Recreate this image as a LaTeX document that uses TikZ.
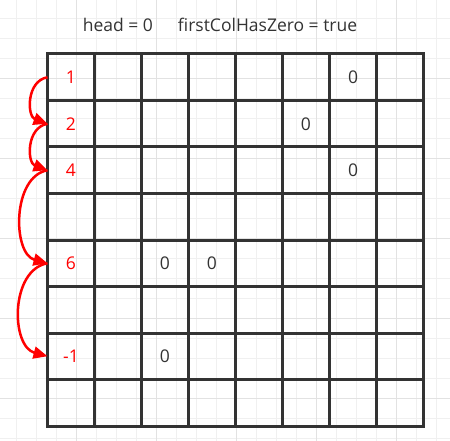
\documentclass[tikz,border=0pt]{standalone}
\usepackage{fontspec}
\setmainfont{Open Sans}
\usetikzlibrary{calc,arrows.meta}
\definecolor{gridline}{HTML}{333333}
\definecolor{bgminor}{HTML}{F0F0F0}
\definecolor{bgmajor}{HTML}{E2E2E2}
\definecolor{txt}{HTML}{333333}
\tikzset{
  cell/.style={draw=gridline,line width=3pt,minimum width=47pt,minimum height=46.5pt,inner sep=0pt,outer sep=0pt},
  val/.style={text=txt,font=\fontsize{17.5}{20}\selectfont},
  idx/.style={text=red,font=\fontsize{17.5}{20}\selectfont},
  nxt/.style={draw=red,line width=2.5pt,-{Triangle[length=14pt,width=12pt]}}
}

\begin{document}
\begin{tikzpicture}[x=1pt,y=-1pt]
                      \useasboundingbox (0,0) rectangle (450,441);
                      \fill[white] (0,0) rectangle (450,441);
                      % background paper
                      \foreach \g in {0,...,21} {
                        \draw[bgminor,line width=1pt] ({16.7+20*\g},0) -- ({16.7+20*\g},441);
                        \draw[bgminor,line width=1pt] (0,{18.3+20*\g}) -- (450,{18.3+20*\g});
                      }
                      \foreach \g in {0,...,4} {
                        \draw[bgmajor,line width=1pt] ({76.7+80*\g},0) -- ({76.7+80*\g},441);
                      }
                      \foreach \g in {0,...,5} {
                        \draw[bgmajor,line width=1pt] (0,{-1.7+80*\g}) -- (450,{-1.7+80*\g});
                      }
                      \node[val](title)at(220,25){head = 0\hspace{25pt}firstColHasZero = true};
                      % the matrix
                      \foreach \r in {1,...,8}
                        \foreach \c in {1,...,8}
                          \node[cell](c\r\c)at({47.5+47*(\c-0.5)},{54+46.5*(\r-0.5)}){};
                      \node[idx](n1)at(c11){1};
                      \node[idx](n2)at(c21){2};
                      \node[idx](n4)at(c31){4};
                      \node[idx](n6)at(c51){6};
                      \node[idx](nm)at(c71){-1};
                      \node[val](z17)at(c17){0};
                      \node[val](z26)at(c26){0};
                      \node[val](z37)at(c37){0};
                      \node[val](z53)at(c53){0};
                      \node[val](z54)at(c54){0};
                      \node[val](z73)at(c73){0};
                      % linked rows
                      \draw[nxt] (c11.west) to[out=190,in=160,looseness=1.2] (c21.west);
                      \draw[nxt] (c21.west) to[out=190,in=160,looseness=1.2] (c31.west);
                      \draw[nxt] (c31.west) to[out=190,in=165,looseness=1] (c51.west);
                      \draw[nxt] (c51.west) to[out=190,in=165,looseness=1.05] (c71.west);
                  \end{tikzpicture}
\end{document}
